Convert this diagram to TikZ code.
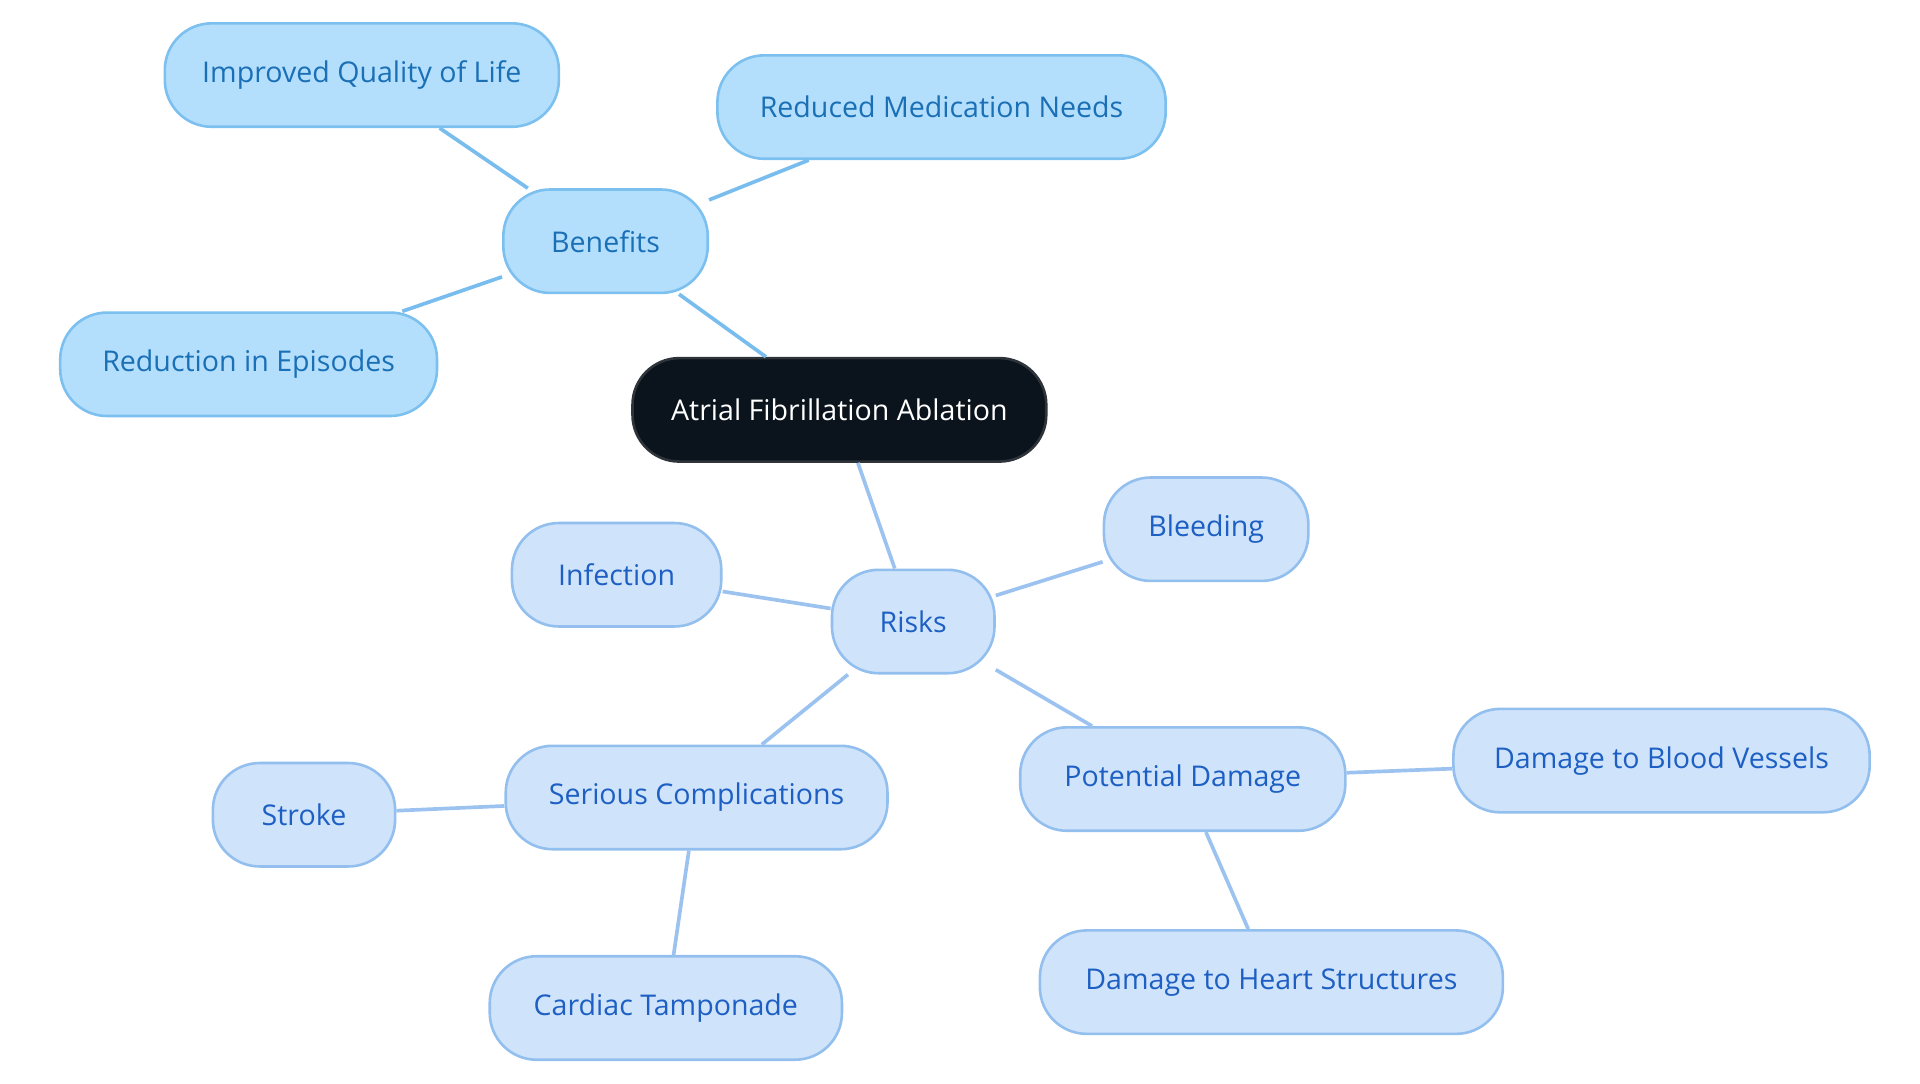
\documentclass[tikz,border=0pt]{standalone}
\usepackage{fontspec}
\setmainfont{Open Sans}
\begin{document}
\begin{tikzpicture}[x=0.01cm,y=-0.01cm,
 base/.style={rounded corners=0.38cm,minimum height=0.84cm,line width=0.6pt,font=\fontsize{6.6}{8}\selectfont,inner sep=0pt},
 ben/.style={base,fill=ben!100,draw=benb,text=bent},
 risk/.style={base,fill=rsk,draw=rskb,text=rskt},
 eb/.style={draw=bene,line width=0.85pt},
 er/.style={draw=rske,line width=0.85pt}]
\definecolor{ben}{HTML}{B3DFFD}\definecolor{benb}{HTML}{7CC0F0}\definecolor{bent}{HTML}{1A6FB5}
\definecolor{rsk}{HTML}{CFE3FB}\definecolor{rskb}{HTML}{93BFEE}\definecolor{rskt}{HTML}{1D5FC2}
\definecolor{bene}{HTML}{78BDEE}\definecolor{rske}{HTML}{9CC3F0}\definecolor{rootc}{HTML}{0B131C}
\useasboundingbox (0,0) rectangle (1560,880);
\node[base,fill=rootc,draw=rootc!70!gray,text=white,minimum width=3.36cm] (root) at (682,333) {Atrial Fibrillation Ablation};
\node[ben,minimum width=1.66cm] (b) at (492,196) {Benefits};
\node[ben,minimum width=3.2cm] (b1) at (294,61) {Improved Quality of Life};
\node[ben,minimum width=3.64cm] (b2) at (765,87) {Reduced Medication Needs};
\node[ben,minimum width=3.06cm] (b3) at (202,296) {Reduction in Episodes};
\node[risk,minimum width=1.32cm] (r) at (742,505) {Risks};
\node[risk,minimum width=1.7cm] (r1) at (501,467) {Infection};
\node[risk,minimum width=1.66cm] (r2) at (980,430) {Bleeding};
\node[risk,minimum width=3.1cm] (s) at (566,648) {Serious Complications};
\node[risk,minimum width=1.48cm] (s1) at (247,662) {Stroke};
\node[risk,minimum width=2.86cm] (s2) at (541,819) {Cardiac Tamponade};
\node[risk,minimum width=2.64cm] (p) at (961,633) {Potential Damage};
\node[risk,minimum width=3.38cm] (p1) at (1350,618) {Damage to Blood Vessels};
\node[risk,minimum width=3.76cm] (p2) at (1033,798) {Damage to Heart Structures};
\begin{scope}[on background layer/.try]
\end{scope}
\draw[eb] (root) -- (b);
\draw[eb] (b) -- (b1);
\draw[eb] (b) -- (b2);
\draw[eb] (b) -- (b3);
\draw[er] (root) -- (r);
\draw[er] (r) -- (r1);
\draw[er] (r) -- (r2);
\draw[er] (r) -- (s);
\draw[er] (s) -- (s1);
\draw[er] (s) -- (s2);
\draw[er] (r) -- (p);
\draw[er] (p) -- (p1);
\draw[er] (p) -- (p2);
\end{tikzpicture}
\end{document}
